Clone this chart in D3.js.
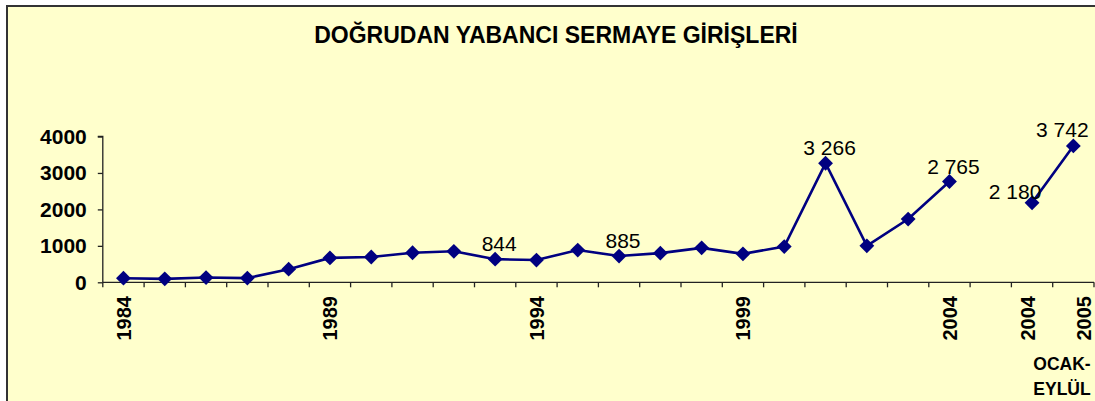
<!DOCTYPE html>
<html>
<head>
<meta charset="utf-8">
<script src="https://cdn.jsdelivr.net/npm/d3@7"></script>
<style>
  body { margin: 0; background: #fff; }
  text { font-family: Arial, "Liberation Sans", sans-serif; }
</style>
</head>
<body>
<div id="chart"></div>
<script>
var width = 1095;
var height = 401;

// data
var categories = ["1984", "1985", "1986", "1987", "1988", "1989", "1990", "1991", "1992",
  "1993", "1994", "1995", "1996", "1997", "1998", "1999", "2000", "2001", "2002",
  "2003", "2004", "", "2004 OCAK-EYLÜL", "2005 OCAK-EYLÜL"]
var values = [113, 95, 130, 115, 360, 670, 695, 810, 850,
  635, 610, 885, 720, 800, 945, 780, 980, 3266, 1000,
  1735, 2765, null, 2180, 3742]
var tickLabels = ["1984", "", "", "", "", "1989", "", "", "",
  "", "1994", "", "", "", "", "1999", "", "", "",
  "", "2004", "", "2004", "2005"]
var yTicks = [0, 1000, 2000, 3000, 4000]
var labelCats = ["1993", "1996", "2001", "2004", "2004 OCAK-EYLÜL", "2005 OCAK-EYLÜL"]
var labelTexts = ["844", "885", "3 266", "2 765", "2 180", "3 742"]

var title = "DOĞRUDAN YABANCI SERMAYE GİRİŞLERİ"
var note = ["OCAK-", "EYLÜL"]

var svg = d3.select("#chart").append("svg")
  .attr("width", width)
  .attr("height", height)

// chart area frame
svg.append("rect")
  .attr("x", 7).attr("y", 6)
  .attr("width", width + 10).attr("height", height + 10)
  .attr("fill", "#FFFFCC")
  .attr("stroke", "#333")
  .attr("stroke-width", 2)

svg.append("text")
  .attr("x", 556).attr("y", 43)
  .attr("text-anchor", "middle")
  .style("font-size", "23px")
  .style("font-weight", "bold")
  .text(title)

var x = d3.scaleBand()
  .domain(categories)
  .range([102.8, 1094])
  .padding(0)

var y = d3.scaleLinear()
  .domain([0, 4000])
  .range([282.3, 136.5])

// y axis
var yAxis = svg.append("g")
  .attr("transform", "translate(" + x.range()[0] + ",0)")
  .call(d3.axisLeft(y).tickValues(yTicks).tickFormat(d3.format("d")).tickSize(5).tickPadding(11))
yAxis.selectAll("text")
  .style("font-size", "21px")
  .style("font-weight", "bold")
  .attr("fill", "#000")
yAxis.selectAll("line, path").attr("stroke", "#222").attr("stroke-width", 1.3)
yAxis.select(".domain").attr("d", "M-5," + y(4000) + "H0V" + y(0))

// x axis
var xg = svg.append("g")
xg.append("line")
  .attr("x1", x.range()[0]).attr("x2", x.range()[1])
  .attr("y1", y(0)).attr("y2", y(0))
  .attr("stroke", "#222").attr("stroke-width", 1.3)

var bounds = categories.map(c => x(c)).concat([x.range()[1]])
xg.selectAll(".tick")
  .data(bounds)
  .enter().append("line")
  .attr("x1", d => d).attr("x2", d => d)
  .attr("y1", y(0)).attr("y2", y(0) + 5)
  .attr("stroke", "#222").attr("stroke-width", 1.3)

var tickNudge = {"2004 OCAK-EYLÜL": -4, "2005 OCAK-EYLÜL": 10}
xg.selectAll(".xlab")
  .data(categories.map((c, i) => ({c: c, t: tickLabels[i]})).filter(d => d.t))
  .enter().append("text")
  .attr("transform", d => "translate(" + (x(d.c) + x.bandwidth() / 2 + (tickNudge[d.c] || 0)) + ",296) rotate(-90)")
  .attr("dy", "0.36em")
  .attr("text-anchor", "end")
  .style("font-size", "20px")
  .style("font-weight", "bold")
  .text(d => d.t)

svg.selectAll(".note")
  .data(note)
  .enter().append("text")
  .attr("x", 1062)
  .attr("y", (d, i) => 370 + i * 25)
  .attr("text-anchor", "middle")
  .style("font-size", "17.5px")
  .style("font-weight", "bold")
  .text(d => d)

// series
var pts = categories.map((c, i) => ({c: c, v: values[i]}))

var line = d3.line()
  .defined(d => d.v != null)
  .x(d => x(d.c) + x.bandwidth() / 2)
  .y(d => y(d.v))

svg.append("path")
  .datum(pts)
  .attr("d", line)
  .attr("fill", "none")
  .attr("stroke", "#000080")
  .attr("stroke-width", 2.6)

svg.selectAll(".marker")
  .data(pts.filter(d => d.v != null))
  .enter().append("path")
  .attr("d", d3.symbol(d3.symbolSquare, 110))
  .attr("transform", d => "translate(" + (x(d.c) + x.bandwidth() / 2) + "," + y(d.v) + ") rotate(45)")
  .attr("fill", "#000080")

// data labels
var nudge = {"2 180": [-17, -4], "3 742": [-11, -9]}
svg.selectAll(".dlab")
  .data(labelCats.map((c, i) => ({c: c, t: labelTexts[i], v: values[categories.indexOf(c)]})))
  .enter().append("text")
  .attr("x", d => x(d.c) + x.bandwidth() / 2 + (nudge[d.t] ? nudge[d.t][0] : 4))
  .attr("y", d => y(d.v) + (nudge[d.t] ? nudge[d.t][1] : -8))
  .attr("text-anchor", "middle")
  .style("font-size", "21px")
  .text(d => d.t)
</script>
</body>
</html>
